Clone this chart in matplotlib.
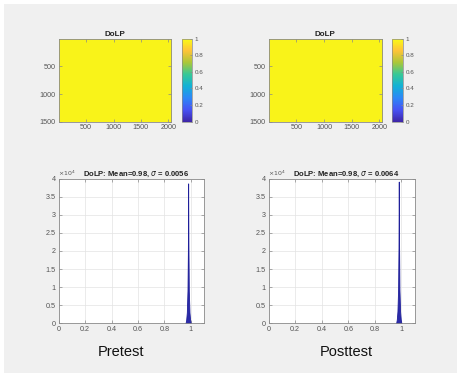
"""DoLP maps and histograms, pretest vs posttest (MATLAB-style figure)."""
import numpy as np
import matplotlib
matplotlib.use("Agg")
import matplotlib.pyplot as plt
from matplotlib.colors import LinearSegmentedColormap
from matplotlib.patches import Rectangle

W, H = 465, 380

# image size (pixels) and mean DoLP shown in the maps
img_cols, img_rows = 2048, 1500
panel_names = ["Pretest", "Posttest"]
dolp_mean = [0.98, 0.98]
dolp_sigma = [0.0056, 0.0064]

# histogram (bin centres, counts)
bin_centers = [0.960, 0.965, 0.970, 0.975, 0.978, 0.980, 0.982, 0.985, 0.990, 0.995, 1.000]
pre_counts = [0, 900, 3000, 9000, 20000, 38700, 22000, 9000, 3000, 900, 0]
post_counts = [0, 1000, 3300, 9500, 21000, 39200, 23000, 9500, 3300, 1000, 0]
counts = [pre_counts, post_counts]

xticks = [0, 0.2, 0.4, 0.6, 0.8, 1]
xtick_labels = ["0", "0.2", "0.4", "0.6", "0.8", "1"]
yticks = [0, 0.5, 1, 1.5, 2, 2.5, 3, 3.5, 4]
ytick_labels = ["0", "0.5", "1", "1.5", "2", "2.5", "3", "3.5", "4"]
cb_ticks = [0, 0.2, 0.4, 0.6, 0.8, 1]

# approximate MATLAB parula
parula = LinearSegmentedColormap.from_list("parula", [
    (0.2422, 0.1504, 0.6603), (0.2810, 0.3228, 0.9579), (0.1786, 0.5289, 0.9682),
    (0.0689, 0.6948, 0.8394), (0.2161, 0.7843, 0.5923), (0.6720, 0.7793, 0.2227),
    (0.9970, 0.7659, 0.2199), (0.9769, 0.9839, 0.0805)])

TICK_C = "#555555"
plt.rcParams["font.family"] = ["Liberation Sans", "DejaVu Sans"]


def px(x0, y0, x1, y1):
    return [x0 / W, 1 - y1 / H, (x1 - x0) / W, (y1 - y0) / H]


def style(ax, fs=5.2):
    for s in ax.spines.values():
        s.set_color("#8a8a8a")
        s.set_linewidth(0.6)
    ax.tick_params(direction="in", length=2, width=0.5, colors="#8a8a8a",
                   labelcolor=TICK_C, labelsize=fs, top=True, right=True, pad=2)


fig = plt.figure(figsize=(W / 100, H / 100), dpi=100, facecolor="white")
fig.patches.append(Rectangle((4 / W, 1 - 373 / H), 453 / W, 369 / H,
                             transform=fig.transFigure, facecolor="#f0f0f0",
                             edgecolor="none", zorder=-10))

img_x = [(58.7, 171.0), (268.7, 382.0)]
cb_x = [(181.7, 191.7), (392.0, 402.7)]
hist_x = [(58.7, 204.0), (268.7, 414.7)]
label_x = [121, 346]

for i in range(2):
    ax = fig.add_axes(px(img_x[i][0], 38.7, img_x[i][1], 121.7))
    field = np.full((img_rows // 100, img_cols // 100), dolp_mean[i])
    im = ax.imshow(field, cmap=parula, vmin=0, vmax=1, aspect="auto",
                   extent=[0.5, img_cols + 0.5, img_rows + 0.5, 0.5])
    ax.set_xticks([500, 1000, 1500, 2000])
    ax.set_yticks([500, 1000, 1500])
    style(ax)
    ax.set_title("DoLP", fontsize=5.8, fontweight="bold", pad=2, color="#222222")

    cax = fig.add_axes(px(cb_x[i][0], 38.7, cb_x[i][1], 121.7))
    cb = fig.colorbar(im, cax=cax, ticks=cb_ticks)
    cb.ax.set_yticklabels([f"{t:g}" for t in cb_ticks])
    cb.outline.set_edgecolor("#8a8a8a")
    cb.outline.set_linewidth(0.5)
    cb.ax.tick_params(direction="in", length=1.5, width=0.5, colors="#8a8a8a",
                      labelcolor=TICK_C, labelsize=4.5, pad=2)

    hx = fig.add_axes(px(hist_x[i][0], 178.7, hist_x[i][1], 323.3))
    c = np.array(counts[i]) / 1e4
    hx.fill_between(bin_centers, 0, c, color="#2b2ba8", lw=0.6,
                    edgecolor="#1f1f9a")
    hx.set_xlim(0, 1.1)
    hx.set_ylim(0, 4)
    hx.set_xticks(xticks)
    hx.set_xticklabels(xtick_labels)
    hx.set_yticks(yticks)
    hx.set_yticklabels(ytick_labels)
    hx.grid(True, color="#e3e3e3", lw=0.5)
    hx.set_axisbelow(True)
    style(hx, fs=5.2)
    hx.text(-0.005, 1.005, r"$\times10^4$", transform=hx.transAxes,
            fontsize=4.5, color=TICK_C, ha="left", va="bottom")
    hx.set_title(f"DoLP: Mean={dolp_mean[i]:g}, $\\sigma$ = {dolp_sigma[i]:.4f}",
                 fontsize=5.5, fontweight="bold", pad=2, color="#222222",
                 x=0.53)

    fig.text(label_x[i] / W, 1 - 352 / H, panel_names[i], fontsize=10.5,
             ha="center", va="center", color="#111111")

fig.savefig("out.png", dpi=100, facecolor="white")
